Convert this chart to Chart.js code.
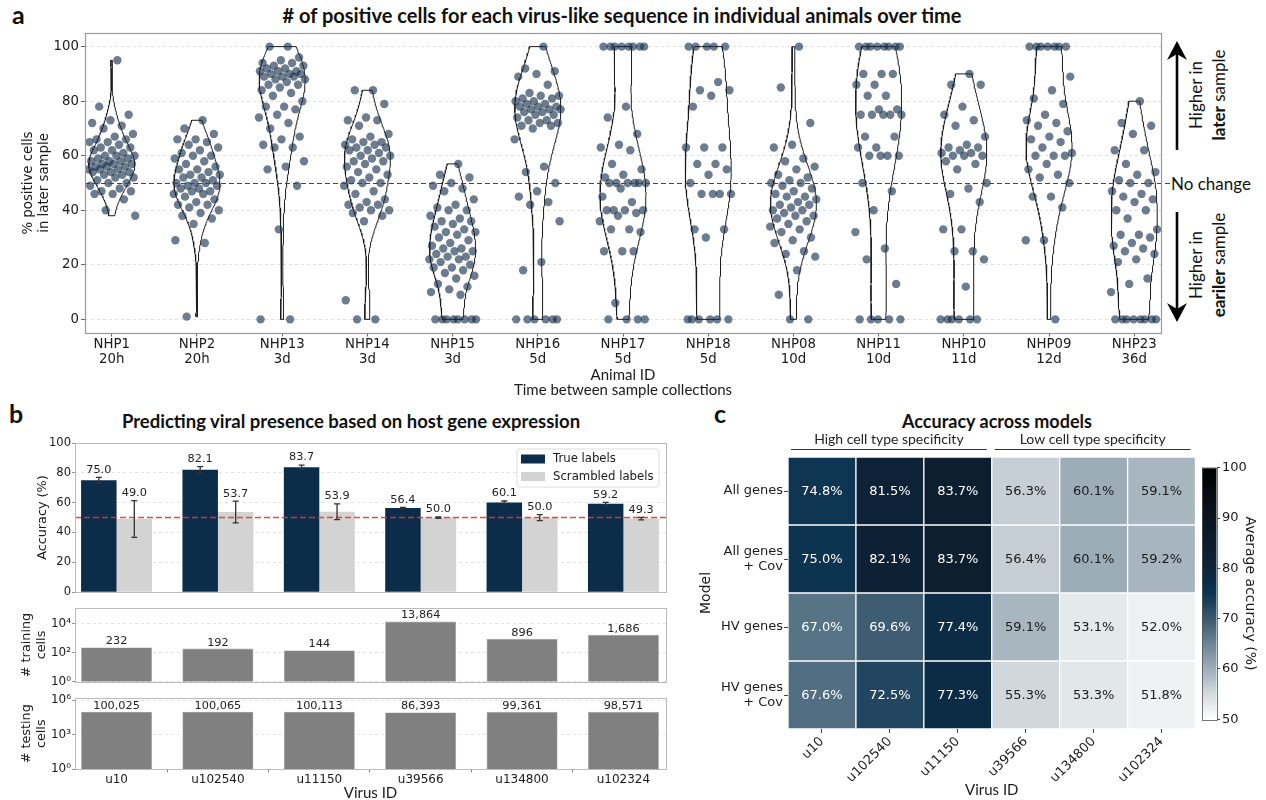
<!DOCTYPE html>
<html>
<head>
<meta charset="utf-8">
<script src="https://cdn.jsdelivr.net/npm/chart.js@4.4.1/dist/chart.umd.min.js"></script>
<style>
  body { margin: 0; background: #fff; }
  #page { position: relative; width: 1266px; height: 800px; overflow: hidden; color: #111; }
  canvas { position: absolute; }
  .tag { position: absolute; font: bold 25px Lato, sans-serif; line-height: 25px; }
  .heading { position: absolute; font: bold 16px Lato, sans-serif; white-space: nowrap; transform: translate(-50%, -50%); }
  .side { position: absolute; font: 17px Lato, sans-serif; white-space: nowrap; text-align: center; line-height: 23px; transform: translate(-50%, -50%) rotate(-90deg); }
  .note { position: absolute; font: 17px Lato, sans-serif; white-space: nowrap; transform: translateY(-50%); }
</style>
</head>
<body>
<div id="page">
  <div class="tag" style="left:12px; top:2px;">a</div>
  <div class="heading" style="left:622px; top:15px; font-size:20px;"># of positive cells for each virus-like sequence in individual animals over time</div>
  <div class="side" style="left:1207px; top:95px;">Higher in<br><b>later</b> sample</div>
  <div class="side" style="left:1207px; top:265px;">Higher in<br><b>eariler</b> sample</div>
  <div class="note" style="left:1171px; top:183px;">No change</div>
  <div class="tag" style="left:9px; top:401px;">b</div>
  <div class="heading" style="left:351px; top:421px; font-size:18.5px;">Predicting viral presence based on host gene expression</div>
  <div class="tag" style="left:714px; top:401px;">c</div>
  <div class="heading" style="left:997px; top:421px; font-size:18px;">Accuracy across models</div>

  <canvas id="violins" width="1266" height="400" style="left:0; top:0;"></canvas>
  <canvas id="accuracy" width="690" height="200" style="left:0; top:400px;"></canvas>
  <canvas id="training" width="690" height="90" style="left:0; top:600px;"></canvas>
  <canvas id="testing" width="690" height="120" style="left:0; top:690px;"></canvas>
  <canvas id="heatmap" width="576" height="400" style="left:690px; top:400px;"></canvas>
  <canvas id="colorbar" width="71" height="290" style="left:1195px; top:450px;"></canvas>
</div>

<script>
// ---- panel a: % positive cells in the later sample, per animal ----
const animals = ['NHP1', 'NHP2', 'NHP13', 'NHP14', 'NHP15', 'NHP16', 'NHP17', 'NHP18', 'NHP08', 'NHP11', 'NHP10', 'NHP09', 'NHP23'];
const intervals = ['20h', '20h', '3d', '3d', '3d', '5d', '5d', '5d', '10d', '10d', '11d', '12d', '36d'];

const nhp1 = [95, 78, 75, 73, 72, 71, 70, 68, 67, 66, 66, 65, 65, 64, 63, 63, 62, 62, 61, 60, 60, 60, 59, 59, 58, 58, 58, 57, 57, 57, 56, 56, 56, 55, 55, 55, 54, 54, 54, 53, 53, 52, 52, 51, 50, 50, 49, 48, 47, 47, 46, 46, 44, 40, 38];
const nhp2 = [73, 70, 68, 66, 66, 65, 64, 63, 62, 61, 60, 60, 59, 58, 57, 56, 55, 55, 54, 53, 53, 52, 52, 51, 50, 50, 50, 49, 49, 48, 48, 47, 47, 46, 46, 45, 44, 43, 42, 42, 41, 40, 39, 38, 37, 35, 29, 28, 1];
const nhp13 = [100, 100, 96, 95, 94, 94, 93, 93, 92, 92, 91, 91, 91, 90, 90, 90, 89, 89, 89, 88, 88, 87, 86, 86, 85, 84, 83, 82, 80, 78, 78, 77, 75, 74, 72, 70, 67, 66, 64, 63, 63, 58, 56, 55, 49, 33, 0, 0];
const nhp14 = [84, 84, 79, 74, 73, 73, 71, 68, 67, 66, 65, 65, 64, 64, 63, 63, 62, 62, 61, 60, 60, 59, 58, 58, 57, 56, 55, 54, 53, 52, 51, 50, 50, 49, 47, 46, 44, 43, 42, 42, 41, 40, 40, 39, 38, 36, 7, 0, 0];
const nhp15 = [57, 53, 52, 50, 49, 48, 47, 44, 42, 41, 40, 40, 38, 37, 36, 36, 35, 34, 33, 32, 32, 31, 30, 29, 28, 27, 26, 26, 25, 25, 24, 23, 23, 22, 22, 21, 20, 19, 19, 18, 17, 16, 15, 13, 12, 11, 10, 9, 0, 0, 0, 0, 0, 0, 0, 0];
const nhp16 = [100, 92, 91, 90, 89, 86, 83, 82, 82, 81, 81, 80, 80, 79, 79, 78, 78, 78, 77, 77, 77, 76, 76, 75, 75, 74, 73, 73, 72, 72, 71, 71, 70, 66, 56, 54, 50, 47, 45, 43, 42, 36, 21, 18, 0, 0, 0, 0, 0, 0];
const nhp17 = [100, 100, 100, 100, 100, 100, 100, 100, 78, 74, 68, 64, 63, 62, 57, 55, 53, 52, 50, 50, 50, 50, 50, 50, 48, 45, 43, 40, 40, 40, 40, 39, 38, 36, 33, 33, 32, 25, 25, 25, 6, 0, 0, 0, 0];
const nhp18 = [100, 100, 100, 100, 100, 87, 84, 84, 82, 78, 63, 63, 63, 57, 57, 55, 53, 50, 46, 46, 46, 46, 33, 33, 30, 0, 0, 0, 0, 0, 0];
const nhp08 = [100, 85, 72, 64, 63, 59, 58, 56, 55, 53, 52, 51, 50, 50, 49, 48, 47, 46, 45, 45, 44, 43, 42, 42, 41, 40, 40, 39, 38, 38, 37, 36, 35, 34, 33, 32, 30, 29, 28, 25, 24, 23, 18, 9, 0, 0];
const nhp11 = [100, 100, 100, 100, 100, 100, 100, 100, 90, 90, 90, 86, 86, 82, 82, 77, 77, 75, 75, 75, 75, 75, 67, 67, 63, 63, 60, 60, 60, 60, 50, 47, 40, 32, 26, 22, 13, 0, 0, 0, 0, 0];
const nhp10 = [90, 86, 86, 78, 75, 73, 71, 67, 64, 63, 63, 62, 61, 61, 60, 60, 60, 58, 57, 55, 50, 48, 46, 43, 33, 33, 25, 25, 22, 12, 0, 0, 0, 0, 0, 0];
const nhp09 = [100, 100, 100, 100, 100, 100, 100, 89, 84, 81, 79, 75, 73, 72, 71, 69, 67, 66, 65, 63, 61, 60, 60, 60, 57, 55, 53, 52, 50, 45, 45, 41, 29, 29, 0];
const nhp23 = [80, 72, 71, 68, 62, 62, 57, 54, 53, 51, 50, 50, 47, 46, 45, 44, 43, 40, 40, 37, 33, 31, 31, 30, 28, 27, 26, 25, 24, 22, 21, 15, 13, 10, 0, 0, 0, 0, 0, 0, 0, 0];

const perAnimal = [nhp1, nhp2, nhp13, nhp14, nhp15, nhp16, nhp17, nhp18, nhp08, nhp11, nhp10, nhp09, nhp23];
const yTicksA = [0, 20, 40, 60, 80, 100];
const noChange = 50;

// ---- panel b: classifier accuracy and cell counts per virus ----
const viruses = ['u10', 'u102540', 'u11150', 'u39566', 'u134800', 'u102324'];
const accTrue = [75.0, 82.1, 83.7, 56.4, 60.1, 59.2];
const accTrueErr = [2.0, 2.0, 1.5, 0.4, 1.0, 1.0];
const accScrambled = [49.0, 53.7, 53.9, 50.0, 50.0, 49.3];
const accScrambledErr = [12.3, 7.3, 5.3, 0.5, 2.0, 0.8];
const trainingCells = [232, 192, 144, 13864, 896, 1686];
const testingCells = [100025, 100065, 100113, 86393, 99361, 98571];
const chanceLevel = 50;

// ---- panel c: accuracy of each model ----
const models = [['All genes'], ['All genes', '+ Cov'], ['HV genes'], ['HV genes', '+ Cov']];
const accAllGenes = [74.8, 81.5, 83.7, 56.3, 60.1, 59.1];
const accAllGenesCov = [75.0, 82.1, 83.7, 56.4, 60.1, 59.2];
const accHvGenes = [67.0, 69.6, 77.4, 59.1, 53.1, 52.0];
const accHvGenesCov = [67.6, 72.5, 77.3, 55.3, 53.3, 51.8];
const specificity = [{ label: 'High cell type specificity', from: 0, to: 2 }, { label: 'Low cell type specificity', from: 3, to: 5 }];

Chart.defaults.font.family = '"DejaVu Sans", sans-serif';
Chart.defaults.color = '#1a1a1a';
Chart.defaults.animation = false;
Chart.defaults.plugins.legend.display = false;
Chart.defaults.plugins.tooltip.enabled = false;

const SUP = ['\u2070', '\u00b9', '\u00b2', '\u00b3', '\u2074', '\u2075', '\u2076'];

// outline box round the plot area
const frame = {
  id: 'frame',
  afterDraw(chart, args, opts) {
    const { ctx, chartArea: a } = chart;
    ctx.save();
    ctx.strokeStyle = opts.color || '#999';
    ctx.lineWidth = opts.width || 1;
    ctx.strokeRect(Math.round(a.left) + 0.5, Math.round(a.top) + 0.5, Math.round(a.right - a.left), Math.round(a.bottom - a.top));
    ctx.restore();
  }
};

// gaussian KDE outline (scott bandwidth, cut at the data range, scaled to a common width)
function violinOutline(vals, center, halfWidth) {
  const n = vals.length;
  const mean = vals.reduce((s, v) => s + v, 0) / n;
  const sd = Math.sqrt(vals.reduce((s, v) => s + (v - mean) ** 2, 0) / (n - 1));
  const bw = sd * Math.pow(n, -0.2);
  const lo = Math.min(...vals), hi = Math.max(...vals);
  const ys = [], dens = [];
  for (let k = 0; k <= 120; k++) {
    const y = lo + (hi - lo) * k / 120;
    let d = 0;
    vals.forEach(v => { d += Math.exp(-0.5 * ((y - v) / bw) ** 2); });
    ys.push(y);
    dens.push(d);
  }
  const peak = Math.max(...dens);
  const right = ys.map((y, k) => ({ x: center + halfWidth * dens[k] / peak, y }));
  const left = ys.map((y, k) => ({ x: center - halfWidth * dens[k] / peak, y })).reverse();
  return right.concat(left, [right[0]]);
}

// even horizontal spread for the strip points
const spread = k => (((k + 1) * 0.6180339887) % 1 - 0.5) * 0.56;

function drawArrow(ctx, x, from, tip) {
  const dir = Math.sign(tip - from);
  ctx.beginPath();
  ctx.moveTo(x, from);
  ctx.lineTo(x, tip - dir * 12);
  ctx.stroke();
  ctx.beginPath();
  ctx.moveTo(x, tip);
  ctx.lineTo(x - 10, tip - dir * 19);
  ctx.lineTo(x, tip - dir * 13);
  ctx.lineTo(x + 10, tip - dir * 19);
  ctx.closePath();
  ctx.fill();
}

const panelAExtras = {
  id: 'panelAExtras',
  afterDatasetsDraw(chart) {
    const { ctx, chartArea: a, scales: { y } } = chart;
    const py = Math.round(y.getPixelForValue(noChange)) + 0.5;
    ctx.save();
    ctx.strokeStyle = '#444';
    ctx.lineWidth = 1.2;
    ctx.setLineDash([5, 3]);
    ctx.beginPath();
    ctx.moveTo(a.left, py);
    ctx.lineTo(a.right + 9, py);
    ctx.stroke();
    ctx.restore();
  },
  afterDraw(chart) {
    const { ctx } = chart;
    ctx.save();
    ctx.strokeStyle = '#000';
    ctx.fillStyle = '#000';
    ctx.lineWidth = 2.6;
    drawArrow(ctx, 1177, 150, 41);
    drawArrow(ctx, 1177, 212, 322);
    ctx.restore();
  }
};

new Chart(document.getElementById('violins'), {
  type: 'scatter',
  data: {
    datasets: perAnimal.map((vals, i) => ({
      data: vals.map((v, k) => ({ x: i + spread(k), y: v })),
      pointRadius: 4.2,
      pointHoverRadius: 4.2,
      backgroundColor: 'rgba(20, 45, 75, 0.62)',
      borderWidth: 0,
      order: 1
    })).concat(perAnimal.map((vals, i) => ({
      data: violinOutline(vals, i, 0.27),
      showLine: true,
      pointRadius: 0,
      borderColor: '#1a1a1a',
      borderWidth: 1,
      fill: false,
      order: 2
    })))
  },
  options: {
    responsive: false,
    layout: { padding: { top: 33, right: 105, bottom: 0, left: 0 } },
    scales: {
      x: {
        type: 'linear', min: -0.314, max: 12.314,
        afterBuildTicks: s => { s.ticks = animals.map((_, i) => ({ value: i })); },
        afterFit: s => { s.height = 67; },
        ticks: {
          callback: v => [animals[v], intervals[v]],
          autoSkip: false, maxRotation: 0, padding: 0,
          font: { size: 13.3, lineHeight: 1.17 }
        },
        grid: { drawOnChartArea: false, tickLength: 3.5, tickColor: '#666' },
        border: { display: false },
        title: {
          display: true, text: ['Animal ID', 'Time between sample collections'],
          font: { family: 'Lato', size: 15, lineHeight: 1.0 }, padding: { top: 0, bottom: 2.5 }
        }
      },
      y: {
        min: -5, max: 105,
        afterBuildTicks: s => { s.ticks = yTicksA.map(v => ({ value: v })); },
        afterFit: s => { s.width = 85; },
        ticks: { font: { size: 13.3 }, padding: 2 },
        grid: { color: '#d8d8d8', lineWidth: 0.8, tickLength: 4, tickColor: '#666', tickBorderDash: [], tickWidth: 1 },
        border: { display: false, dash: [3, 3] },
        title: {
          display: true, text: ['% positive cells', 'in later sample'],
          font: { size: 13.3, lineHeight: 1.22 }, padding: { top: 20, bottom: 0 }
        }
      }
    },
    plugins: { frame: { color: '#999', width: 1.2 } }
  },
  plugins: [frame, panelAExtras]
});

// ---- panel b helpers ----
const chanceLine = {
  id: 'chanceLine',
  afterDatasetsDraw(chart) {
    const { ctx, chartArea: a, scales: { y } } = chart;
    const py = y.getPixelForValue(chanceLevel);
    ctx.save();
    ctx.strokeStyle = 'rgba(232, 52, 48, 0.9)';
    ctx.lineWidth = 1.5;
    ctx.setLineDash([6, 3]);
    ctx.beginPath();
    ctx.moveTo(a.left, py);
    ctx.lineTo(a.right, py);
    ctx.stroke();
    ctx.restore();
  }
};

const errorBars = {
  id: 'errorBars',
  afterDatasetsDraw(chart) {
    const { ctx, scales: { y } } = chart;
    ctx.save();
    ctx.font = '11.3px "DejaVu Sans"';
    ctx.textAlign = 'center';
    ctx.textBaseline = 'middle';
    chart.data.datasets.forEach((ds, i) => {
      chart.getDatasetMeta(i).data.forEach((bar, j) => {
        const v = ds.data[j].y, e = ds.errors[j];
        const top = y.getPixelForValue(v + e), bot = y.getPixelForValue(v - e);
        ctx.strokeStyle = '#333';
        ctx.lineWidth = 1.3;
        ctx.beginPath();
        ctx.moveTo(bar.x, top); ctx.lineTo(bar.x, bot);
        ctx.moveTo(bar.x - 3, top); ctx.lineTo(bar.x + 3, top);
        ctx.moveTo(bar.x - 3, bot); ctx.lineTo(bar.x + 3, bot);
        ctx.stroke();
        ctx.fillStyle = '#222';
        ctx.fillText(v.toFixed(1), bar.x, top - 7.5);
      });
    });
    ctx.restore();
  }
};

const insetLegend = {
  id: 'insetLegend',
  afterDraw(chart) {
    const { ctx, chartArea: a } = chart;
    const w = 142, h = 38;
    const x0 = a.right - 7 - w, y0 = a.top + 6;
    ctx.save();
    ctx.fillStyle = 'rgba(255,255,255,0.85)';
    ctx.strokeStyle = '#d5d5d5';
    ctx.lineWidth = 0.8;
    ctx.beginPath();
    ctx.roundRect(x0, y0, w, h, 3);
    ctx.fill();
    ctx.stroke();
    ctx.font = '11.7px "DejaVu Sans"';
    ctx.textBaseline = 'middle';
    chart.data.datasets.forEach((ds, i) => {
      const cy = y0 + 10 + i * 17.5;
      ctx.fillStyle = ds.backgroundColor;
      ctx.fillRect(x0 + 4, cy - 4.5, 24, 9);
      ctx.fillStyle = '#1a1a1a';
      ctx.fillText(ds.label, x0 + 36, cy);
    });
    ctx.restore();
  }
};

const barValues = {
  id: 'barValues',
  afterDatasetsDraw(chart) {
    const { ctx } = chart;
    ctx.save();
    ctx.font = '11.3px "DejaVu Sans"';
    ctx.textAlign = 'center';
    ctx.textBaseline = 'middle';
    ctx.fillStyle = '#222';
    chart.data.datasets.forEach((ds, i) => {
      chart.getDatasetMeta(i).data.forEach((bar, j) => {
        ctx.fillText(ds.data[j].y.toLocaleString('en-US'), bar.x, bar.y - 6);
      });
    });
    ctx.restore();
  }
};

// shared virus axis: one slot per virus, bars 0.7 of a slot wide
const xVirus = () => ({
  type: 'linear', min: -0.41, max: 5.42, offset: false,
  afterBuildTicks: s => { s.ticks = viruses.map((_, i) => ({ value: i })); }
});
const gridB = { color: '#dedede', lineWidth: 0.8, tickLength: 3, tickColor: '#777', tickBorderDash: [] };

new Chart(document.getElementById('accuracy'), {
  type: 'bar',
  data: {
    datasets: [
      { label: 'True labels', data: accTrue.map((v, i) => ({ x: i, y: v })), errors: accTrueErr,
        backgroundColor: '#0c2d4a', categoryPercentage: 0.7, barPercentage: 1 },
      { label: 'Scrambled labels', data: accScrambled.map((v, i) => ({ x: i, y: v })), errors: accScrambledErr,
        backgroundColor: '#d3d3d3', categoryPercentage: 0.7, barPercentage: 1 }
    ]
  },
  options: {
    responsive: false,
    layout: { padding: { top: 43, right: 24, bottom: 4, left: 0 } },
    scales: {
      x: Object.assign(xVirus(), { display: false }),
      y: {
        min: 0, max: 100,
        afterBuildTicks: s => { s.ticks = [0, 20, 40, 60, 80, 100].map(v => ({ value: v })); },
        afterFit: s => { s.width = 75; },
        ticks: { font: { size: 11.5 }, padding: 1 },
        grid: gridB,
        border: { display: false, dash: [3, 3] },
        title: { display: true, text: 'Accuracy (%)', font: { size: 12.8 }, padding: { top: 35, bottom: 0 } }
      }
    },
    plugins: { frame: { color: '#bbb', width: 1 } }
  },
  plugins: [frame, chanceLine, errorBars, insetLegend]
});

function countChart(id, values, topExp, tickExps, yTitle, showX, pad) {
  const x = Object.assign(xVirus(), { display: showX });
  if (showX) {
    Object.assign(x, {
      afterFit: s => { s.height = 40.7; },
      ticks: { callback: v => viruses[v], autoSkip: false, maxRotation: 0, padding: 0, font: { size: 12 } },
      grid: { drawOnChartArea: false, tickLength: 3, tickColor: '#777' },
      border: { display: false },
      title: { display: true, text: 'Virus ID', font: { family: 'Lato', size: 15, lineHeight: 1.0 }, padding: { top: 0, bottom: 9 } }
    });
  }
  return new Chart(document.getElementById(id), {
    type: 'bar',
    data: {
      datasets: [{ data: values.map((v, i) => ({ x: i, y: v })), backgroundColor: '#808080',
        borderColor: '#9a9a9a', borderWidth: 0.6, categoryPercentage: 0.7, barPercentage: 1 }]
    },
    options: {
      responsive: false,
      layout: { padding: pad },
      scales: {
        x: x,
        y: {
          type: 'logarithmic', min: 1, max: Math.pow(10, topExp),
          afterBuildTicks: s => { s.ticks = tickExps.map(e => ({ value: Math.pow(10, e) })); },
          afterFit: s => { s.width = 75; },
          ticks: { callback: v => '10' + SUP[Math.round(Math.log10(v))], autoSkip: false, font: { size: 12 }, padding: 1 },
          grid: gridB,
          border: { display: false, dash: [3, 3] },
          title: { display: true, text: yTitle, font: { size: 12.8, lineHeight: 1.12 }, padding: { top: 20, bottom: 0 } }
        }
      },
      plugins: { frame: { color: '#bbb', width: 1 } }
    },
    plugins: [frame, barValues]
  });
}

countChart('training', trainingCells, 5.06, [0, 2, 4], ['# training', 'cells'], false, { top: 6, right: 24, bottom: 7, left: 0 });
countChart('testing', testingCells, 6.18, [0, 3, 6], ['# testing', 'cells'], true, { top: 3, right: 24, bottom: 0, left: 0 });

// ---- panel c: heatmap + colour bar ----
const rampStops = [
  [50, [255, 255, 255]], [55, [211, 219, 223]], [60, [158, 174, 185]], [65, [107, 132, 150]],
  [70, [58, 89, 111]], [75, [12, 51, 80]], [80, [13, 36, 58]], [90, [11, 21, 32]], [100, [0, 0, 0]]
];
function shade(v) {
  for (let k = 1; k < rampStops.length; k++) {
    const [v1, c1] = rampStops[k];
    const [v0, c0] = rampStops[k - 1];
    if (v <= v1) {
      const t = (v - v0) / (v1 - v0);
      return 'rgb(' + c0.map((c, m) => Math.round(c + (c1[m] - c) * t)).join(',') + ')';
    }
  }
  return 'rgb(0,0,0)';
}

const heatRows = [accAllGenes, accAllGenesCov, accHvGenes, accHvGenesCov];

const heatExtras = {
  id: 'heatExtras',
  afterDatasetsDraw(chart) {
    const { ctx } = chart;
    ctx.save();
    ctx.font = '13px "DejaVu Sans"';
    ctx.textAlign = 'center';
    ctx.textBaseline = 'middle';
    chart.data.datasets.forEach((ds, r) => {
      chart.getDatasetMeta(r).data.forEach((cell, c) => {
        const v = ds.values[c];
        ctx.fillStyle = v > 62 ? '#fff' : '#1a1a1a';
        ctx.fillText(v.toFixed(1) + '%', cell.x, (cell.y + cell.base) / 2 + 1);
      });
    });
    ctx.restore();
  },
  afterDraw(chart) {
    const { ctx, chartArea: a, scales: { x } } = chart;
    const w = x.getPixelForValue(1) - x.getPixelForValue(0);
    ctx.save();
    ctx.font = '14px Lato';
    ctx.textAlign = 'center';
    ctx.textBaseline = 'middle';
    ctx.fillStyle = '#222';
    ctx.strokeStyle = '#333';
    ctx.lineWidth = 1;
    specificity.forEach(g => {
      const x1 = x.getPixelForValue(g.from) - w / 2 + 3;
      const x2 = x.getPixelForValue(g.to) + w / 2 - 5;
      ctx.fillText(g.label, (x1 + x2) / 2, a.top - 18);
      ctx.beginPath();
      ctx.moveTo(x1, a.top - 7.5);
      ctx.lineTo(x2, a.top - 7.5);
      ctx.stroke();
    });
    ctx.restore();
  }
};

new Chart(document.getElementById('heatmap'), {
  type: 'bar',
  data: {
    labels: viruses,
    datasets: heatRows.map((row, r) => ({
      data: row.map(() => [r, r + 1]),
      values: row,
      backgroundColor: row.map(shade),
      borderColor: '#ffffff',
      borderWidth: 1,
      borderSkipped: false,
      grouped: false,
      categoryPercentage: 1,
      barPercentage: 1
    }))
  },
  options: {
    responsive: false,
    layout: { padding: { top: 57, right: 70.5, bottom: 0, left: 0 } },
    scales: {
      x: {
        afterFit: s => { s.height = 71; },
        ticks: { minRotation: 45, maxRotation: 45, autoSkip: false, padding: 1, font: { size: 13 } },
        grid: { drawOnChartArea: false, offset: false, tickLength: 4, tickColor: '#444' },
        border: { display: false },
        title: { display: true, text: 'Virus ID', font: { family: 'Lato', size: 15, lineHeight: 1.0 }, padding: { top: 0, bottom: 2 } }
      },
      y: {
        type: 'linear', reverse: true, min: 0, max: 4,
        afterBuildTicks: s => { s.ticks = models.map((_, r) => ({ value: r + 0.5 })); },
        afterFit: s => { s.width = 98; },
        ticks: { callback: v => models[Math.floor(v)], autoSkip: false, padding: 1, font: { size: 13, lineHeight: 1.2 } },
        grid: { drawOnChartArea: false, tickLength: 4, tickColor: '#444' },
        border: { display: false },
        title: { display: true, text: 'Model', font: { size: 14 }, padding: { top: 8, bottom: 0 } }
      }
    }
  },
  plugins: [heatExtras]
});

const colorRamp = {
  id: 'colorRamp',
  beforeDatasetsDraw(chart) {
    const { ctx, chartArea: a, scales: { y } } = chart;
    const g = ctx.createLinearGradient(0, a.bottom, 0, a.top);
    rampStops.forEach(([v]) => {
      g.addColorStop((a.bottom - y.getPixelForValue(v)) / (a.bottom - a.top), shade(v));
    });
    ctx.save();
    ctx.fillStyle = g;
    ctx.fillRect(a.left, a.top, a.right - a.left, a.bottom - a.top);
    ctx.restore();
  }
};

new Chart(document.getElementById('colorbar'), {
  type: 'scatter',
  data: { datasets: [] },
  options: {
    responsive: false,
    layout: { padding: { top: 17.7, right: 0, bottom: 20.7, left: 7 } },
    scales: {
      x: { display: false, min: 0, max: 1 },
      y: {
        position: 'right', min: 50, max: 100,
        afterBuildTicks: s => { s.ticks = [50, 60, 70, 80, 90, 100].map(v => ({ value: v })); },
        afterFit: s => { s.width = 49.5; },
        ticks: { font: { size: 13 }, padding: 2 },
        grid: { drawOnChartArea: false, tickLength: 3.5, tickColor: '#444' },
        border: { display: false },
        title: { display: true, text: 'Average accuracy (%)', font: { size: 14 }, padding: { top: 7.5, bottom: 0 } }
      }
    },
    plugins: { frame: { color: '#555', width: 0.8 } }
  },
  plugins: [colorRamp, frame]
});
</script>
</body>
</html>
